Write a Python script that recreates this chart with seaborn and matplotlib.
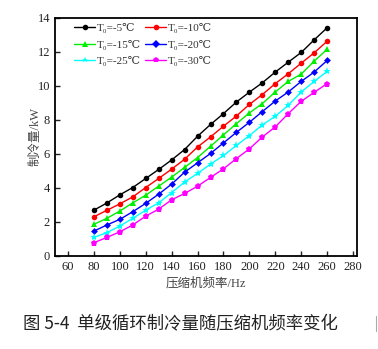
import matplotlib
matplotlib.use("Agg")
import matplotlib.pyplot as plt
import seaborn as sns
import pandas as pd

freq = [80, 90, 100, 110, 120, 130, 140, 150, 160, 170, 180, 190, 200, 210, 220, 230, 240, 250, 260]
labels = ["T₀=-5℃", "T₀=-10℃", "T₀=-15℃", "T₀=-20℃", "T₀=-25℃", "T₀=-30℃"]
q_m5 = [2.69, 3.11, 3.59, 4.02, 4.55, 5.08, 5.64, 6.25, 7.03, 7.72, 8.36, 9.04, 9.62, 10.17, 10.80, 11.38, 11.95, 12.69, 13.40]
q_m10 = [2.30, 2.68, 3.06, 3.47, 4.02, 4.55, 5.10, 5.68, 6.40, 6.99, 7.62, 8.22, 8.90, 9.48, 10.12, 10.70, 11.32, 11.93, 12.61]
q_m15 = [1.86, 2.21, 2.64, 3.12, 3.57, 4.10, 4.63, 5.20, 5.78, 6.44, 7.11, 7.77, 8.40, 8.95, 9.63, 10.25, 10.68, 11.44, 12.14]
q_m20 = [1.46, 1.82, 2.15, 2.60, 3.09, 3.63, 4.22, 4.92, 5.47, 6.02, 6.64, 7.26, 7.85, 8.48, 9.10, 9.63, 10.25, 10.80, 11.48]
q_m25 = [1.09, 1.37, 1.76, 2.21, 2.69, 3.12, 3.72, 4.34, 4.85, 5.39, 5.90, 6.49, 7.07, 7.70, 8.20, 8.85, 9.63, 10.25, 10.84]
q_m30 = [0.78, 1.09, 1.42, 1.82, 2.34, 2.75, 3.30, 3.67, 4.10, 4.61, 5.12, 5.72, 6.29, 6.99, 7.58, 8.36, 9.08, 9.61, 10.12]
xticks = [60, 80, 100, 120, 140, 160, 180, 200, 220, 240, 260, 280]
yticks = [0, 2, 4, 6, 8, 10, 12, 14]

series = [q_m5, q_m10, q_m15, q_m20, q_m25, q_m30]
rows = []
for lab, vals in zip(labels, series):
    for f, q in zip(freq, vals):
        rows.append({"freq": f, "Q": q, "T": lab})
df = pd.DataFrame(rows)

sns.set_style("ticks")
plt.rcParams["font.family"] = ["Liberation Serif", "DejaVu Serif", "Noto Sans CJK SC"]

colors = ["#000000", "#ff0000", "#00ee00", "#0000ff", "#00ffff", "#ff00ff"]
markers = ["o", "o", "^", "D", "*", "p"]
msizes = [4, 4, 4.5, 3.5, 6, 4.5]

fig = plt.figure(figsize=(3.78, 3.49), dpi=100)
ax = fig.add_axes([55 / 378, 1 - 256 / 349, (357 - 55) / 378, (256 - 17.5) / 349])

sns.lineplot(data=df, x="freq", y="Q", hue="T", style="T", palette=colors,
             markers=markers, dashes=False, markersize=4, linewidth=1,
             markeredgewidth=0, ax=ax)
for line, ms in zip(ax.lines, msizes):
    line.set_markersize(ms)

ax.set_xlim(50, 283)
ax.set_ylim(0, 14)
ax.set_xticks(xticks)
ax.set_yticks(yticks)
ax.tick_params(direction="in", length=3.5, width=1, labelsize=9, colors="#222222",
               top=False, right=False)
for s in ax.spines.values():
    s.set_linewidth(1.3)
    s.set_color("#000000")

lab_font = ["Liberation Serif", "Noto Sans CJK SC"]
ax.set_xlabel("压缩机频率/Hz", family=lab_font, fontsize=9, color="#444444")
ax.set_ylabel("制冷量/kW", family=lab_font, fontsize=9, color="#444444")
ax.xaxis.set_label_coords(0.5, -0.088)
ax.yaxis.set_label_coords(-0.043, 0.5)

handles, labs = ax.get_legend_handles_labels()
order = [0, 2, 4, 1, 3, 5]
leg = ax.legend([handles[i] for i in order], [labs[i] for i in order], ncol=2,
                loc="upper left", frameon=False,
                handlelength=1.9, handletextpad=0.15,
                columnspacing=0.35, labelspacing=0.6,
                bbox_to_anchor=(0.045, 1.0), borderaxespad=0.1, borderpad=0.4,
                prop={"family": ["Liberation Serif", "DejaVu Serif", "Noto Sans CJK SC"], "size": 8})
for t in leg.get_texts():
    t.set_color("#333333")

fig.text(23 / 378, 1 - 324 / 349, "图 5-4  单级循环制冷量随压缩机频率变化",
         family=["Noto Sans CJK SC", "DejaVu Sans"], fontsize=12.5,
         color="#222222", ha="left", va="center")
fig.lines.append(plt.Line2D([376 / 378, 376 / 378], [1 - 316 / 349, 1 - 331 / 349],
                            transform=fig.transFigure, color="#aaaaaa", linewidth=0.8))

fig.savefig("out.png", dpi=100)
